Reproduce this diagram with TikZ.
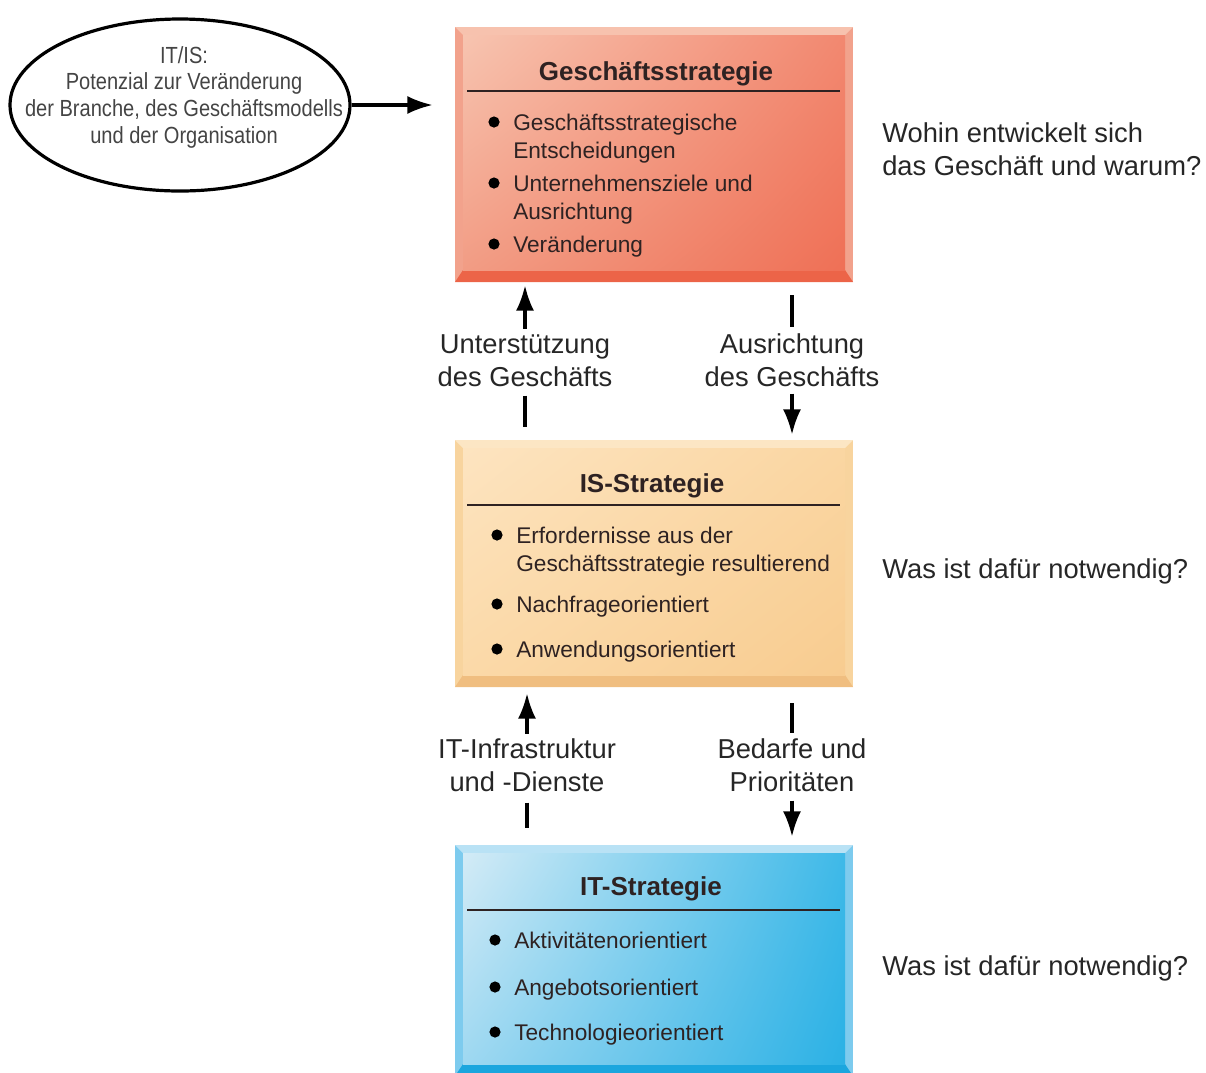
\documentclass[tikz,border=0pt]{standalone}
\usepackage{fontspec}
\setmainfont{Liberation Sans}
\newfontfamily\ellfont[FakeStretch=0.86]{Liberation Sans}
\usetikzlibrary{arrows.meta,shapes.geometric,shadings}

\definecolor{gsSide}{HTML}{F2A28C}
\definecolor{gsTop}{HTML}{F7C2AE}
\definecolor{gsBot}{HTML}{EC6448}
\definecolor{gsUL}{HTML}{F7C4B0}
\definecolor{gsUR}{HTML}{F28870}
\definecolor{gsLL}{HTML}{F29C84}
\definecolor{gsLR}{HTML}{EF7056}
\definecolor{isSide}{HTML}{F8D49E}
\definecolor{isTop}{HTML}{FCE6C4}
\definecolor{isBot}{HTML}{F0BE80}
\definecolor{isUL}{HTML}{FDE4C0}
\definecolor{isUR}{HTML}{FAD6A2}
\definecolor{isLL}{HTML}{FBD9A8}
\definecolor{isLR}{HTML}{F8CC90}
\definecolor{itSide}{HTML}{7DCBEE}
\definecolor{itTop}{HTML}{B9E2F5}
\definecolor{itBot}{HTML}{1BA6DE}
\definecolor{itUL}{HTML}{D3EBF6}
\definecolor{itUR}{HTML}{3EB9E8}
\definecolor{itLL}{HTML}{9ED8F1}
\definecolor{itLR}{HTML}{2BB1E5}
\definecolor{boxtext}{HTML}{2E2222}
\definecolor{lbltext}{HTML}{262626}
\definecolor{elltext}{HTML}{444444}

\tikzset{
	bevel/.style={fill=#1Side, path picture={
		\fill[#1Top] (path picture bounding box.north west) -- (path picture bounding box.north east) -- ([shift={(-6pt,-6pt)}]path picture bounding box.north east) -- ([shift={(6pt,-6pt)}]path picture bounding box.north west) -- cycle;
		\fill[#1Bot] (path picture bounding box.south west) -- (path picture bounding box.south east) -- ([shift={(-6pt,9pt)}]path picture bounding box.south east) -- ([shift={(6pt,9pt)}]path picture bounding box.south west) -- cycle;
		\shade[upper left=#1UL, upper right=#1UR, lower left=#1LL, lower right=#1LR] ([shift={(6pt,-6pt)}]path picture bounding box.north west) rectangle ([shift={(-6pt,9pt)}]path picture bounding box.south east);
	}},
	stratbox/.style={minimum width=298.5pt, inner sep=0pt},
	boxtitle/.style={anchor=base, inner sep=0pt, text=boxtext, font=\fontsize{19.5pt}{23pt}\selectfont\bfseries},
	itemtxt/.style={anchor=base west, inner sep=0pt, align=left, text=boxtext, font=\fontsize{17pt}{21pt}\selectfont},
	titlerule/.style={line width=1.5pt, draw=boxtext},
	lbl/.style={anchor=base, inner sep=0pt, align=center, text=lbltext, font=\fontsize{20.5pt}{24.75pt}\selectfont},
	question/.style={anchor=base west, inner sep=0pt, align=left, text=lbltext, font=\fontsize{20.5pt}{24.75pt}\selectfont},
	flowline/.style={line width=2.4pt, draw=black},
	flowarrow/.style={flowline, -{Latex[length=19pt,width=13.5pt]}},
}

\begin{document}
\begin{tikzpicture}[x=0.75pt,y=-0.75pt]
	\useasboundingbox (0,0) rectangle (1206,1072);

	% IT/IS ellipse
	\node[ellipse, draw, line width=2.4pt, minimum width=255pt, minimum height=129pt] (itis) at (180,105) {};
	\node[anchor=base, inner sep=0pt, align=center, text=elltext, font=\ellfont\fontsize{17.5pt}{20pt}\selectfont] (itistxt) at (184,143)
		{IT/IS:\\Potenzial zur Veränderung\\der Branche, des Geschäftsmodells\\und der Organisation};

	% strategy boxes
	\node[stratbox, bevel=gs, minimum height=191.25pt] (gs) at (654,154.5) {};
	\node[stratbox, bevel=is, minimum height=185.25pt] (iss) at (654,563.5) {};
	\node[stratbox, bevel=it, minimum height=173.25pt] (its) at (654,960.5) {};

	\node[boxtitle] (gstitle) at (656,80) {Geschäftsstrategie};
	\node[boxtitle] (istitle) at (652,492) {IS-Strategie};
	\node[boxtitle] (ittitle) at (651,895) {IT-Strategie};
	\draw[titlerule] (467,91) -- (840,91);
	\draw[titlerule] (467,505) -- (840,505);
	\draw[titlerule] (467,910) -- (840,910);

	% bullet items (y = baseline of the first line / of the last line)
	\foreach \y/\z/\txt in {130/158/{Geschäftsstrategische\\Entscheidungen}, 191/219/{Unternehmensziele und\\Ausrichtung}, 252/252/{Veränderung}}
	{
		\fill[black] (494,\y-8) circle (4.2pt);
		\node[itemtxt] (gsitem\y) at (513,\z) {\txt};
	}
	\foreach \y/\z/\txt in {543/571/{Erfordernisse aus der\\Geschäftsstrategie resultierend}, 612/612/{Nachfrageorientiert}, 657/657/{Anwendungsorientiert}}
	{
		\fill[black] (497,\y-8) circle (4.2pt);
		\node[itemtxt] (isitem\y) at (516,\z) {\txt};
	}
	\foreach \y/\txt in {948/{Aktivitätenorientiert}, 995/{Angebotsorientiert}, 1040/{Technologieorientiert}}
	{
		\fill[black] (495,\y-8) circle (4.2pt);
		\node[itemtxt] (ititem\y) at (514,\y) {\txt};
	}

	% questions on the right
	\node[question] (qgs) at (882,175) {Wohin entwickelt sich\\das Geschäft und warum?};
	\node[question] (qis) at (882,578) {Was ist dafür notwendig?};
	\node[question] (qit) at (882,975) {Was ist dafür notwendig?};

	% labels between the boxes
	\node[lbl] (lblUS) at (525,386) {Unterstützung\\des Geschäfts};
	\node[lbl] (lblAR) at (792,386) {Ausrichtung\\des Geschäfts};
	\node[lbl] (lblIT) at (527,791) {IT-Infrastruktur\\und -Dienste};
	\node[lbl] (lblBP) at (792,791) {Bedarfe und\\Prioritäten};

	% connectors
	\draw[flowarrow, shorten >=16.5pt] (itis.east) -- (itis.east -| gs.west);
	\draw[flowarrow, shorten <=3.75pt, shorten >=2.25pt] (lblUS.north) -- (lblUS.north |- gs.south);
	\draw[flowline, shorten <=6.75pt, shorten >=9.75pt] (lblUS.south) -- (lblUS.south |- iss.north);
	\draw[flowline, shorten <=9.75pt, shorten >=4.5pt] (lblAR.north |- gs.south) -- (lblAR.north);
	\draw[flowarrow, shorten <=5.25pt, shorten >=3.75pt] (lblAR.south) -- (lblAR.south |- iss.north);
	\draw[flowarrow, shorten <=3pt, shorten >=4.5pt] (lblIT.north) -- (lblIT.north |- iss.south);
	\draw[flowline, shorten <=8.25pt, shorten >=12.75pt] (lblIT.south) -- (lblIT.south |- its.north);
	\draw[flowline, shorten <=12pt, shorten >=3.75pt] (lblBP.north |- iss.south) -- (lblBP.north);
	\draw[flowarrow, shorten <=6.75pt, shorten >=6pt] (lblBP.south) -- (lblBP.south |- its.north);
\end{tikzpicture}
\end{document}
